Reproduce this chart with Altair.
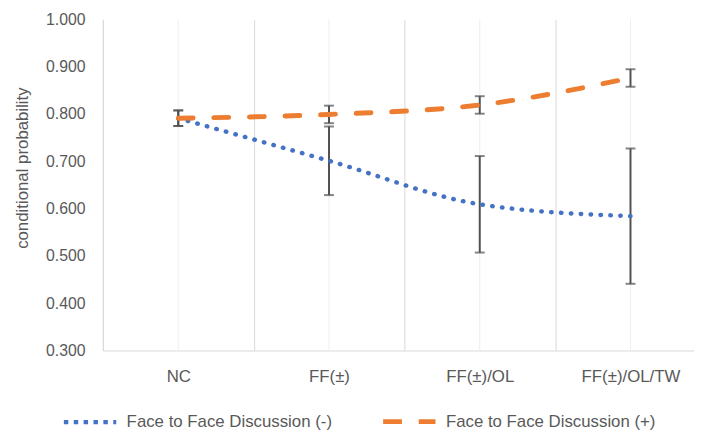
import altair as alt
import pandas as pd

categories = ["NC", "FF(±)", "FF(±)/OL", "FF(±)/OL/TW"]
series = ["Face to Face Discussion (-)", "Face to Face Discussion (+)"]
neg_mean = [0.791, 0.701, 0.609, 0.584]
neg_err = [0.0165, 0.0725, 0.102, 0.143]
pos_mean = [0.791, 0.799, 0.819, 0.876]
pos_err = [0.0165, 0.0185, 0.0185, 0.0185]
y_ticks = [0.3, 0.4, 0.5, 0.6, 0.7, 0.8, 0.9, 1.0]

colors = ["#4472C4", "#ED7D31"]
dashes = [[0.5, 9.5], [15, 21]]          # drawn with round caps
legend_dashes = [[4.5, 5.5], [19, 17]]   # legend symbols use butt caps
widths = [4.5, 5]

FONT = "Liberation Sans"
TEXT = "#595959"
GRID = "#d9d9d9"

rows = []
for s, means, errs in [(series[0], neg_mean, neg_err), (series[1], pos_mean, pos_err)]:
    for i, (c, m, e) in enumerate(zip(categories, means, errs)):
        rows.append({"category": c, "series": s, "mean": m, "lo": m - e, "hi": m + e, "idx": i})
df = pd.DataFrame(rows)
cat_df = pd.DataFrame({"category": categories})

H = 335
X_RANGE = 610
W_VIEW = 598

x_scale = alt.Scale(domain=categories, type="band", paddingInner=0, paddingOuter=0, range=[0, X_RANGE])
y_scale = alt.Scale(domain=[0.3, 1.0], nice=False, zero=False)

x_axis = alt.Axis(title=None, tickBand="extent", grid=True, gridColor=GRID, gridWidth=1,
                  ticks=False, tickSize=0, domainColor=GRID, domainWidth=1,
                  labelPadding=18, labelFontSize=17, labelColor=TEXT, labelAngle=0)
y_axis = alt.Axis(values=y_ticks, format=".3f", grid=False, ticks=False, tickSize=0,
                  domainColor=GRID, domainWidth=1, labelPadding=18, labelFontSize=16,
                  labelColor=TEXT, title="conditional probability", titleX=-81, titleY=150,
                  titleAngle=-90, titleFontSize=17, titleFontWeight="normal", titleColor=TEXT,
                  titleBaseline="middle", titleAlign="center")


def X():
    return alt.X("category:N", scale=x_scale, sort=categories, axis=x_axis)


def Y(field):
    return alt.Y(f"{field}:Q", scale=y_scale, axis=y_axis)


minor = alt.Chart(cat_df).mark_rule(color="#eeeeee", strokeWidth=1).encode(x=X())

err_rule = alt.Chart(df).mark_rule(color="#505050", strokeWidth=2).encode(
    x=X(), y=Y("lo"), y2="hi:Q")
cap_lo = alt.Chart(df).mark_tick(color="#505050", size=10, thickness=2).encode(x=X(), y=Y("lo"))
cap_hi = alt.Chart(df).mark_tick(color="#505050", size=10, thickness=2).encode(x=X(), y=Y("hi"))

lines = alt.Chart(df).mark_line(interpolate="monotone", strokeCap="round").encode(
    x=X(),
    y=Y("mean"),
    color=alt.Color("series:N", scale=alt.Scale(domain=series, range=colors), legend=None),
    strokeDash=alt.StrokeDash("series:N", scale=alt.Scale(domain=series, range=dashes), legend=None),
    strokeWidth=alt.StrokeWidth("series:N", scale=alt.Scale(domain=series, range=widths), legend=None),
    order="idx:Q",
)

legend = alt.Legend(title=None)
legend_layer = alt.Chart(df).transform_filter("false").mark_line(strokeCap="butt").encode(
    x=X(),
    y=Y("mean"),
    color=alt.Color("series:N", scale=alt.Scale(domain=series, range=colors), legend=legend),
    strokeDash=alt.StrokeDash("series:N", scale=alt.Scale(domain=series, range=legend_dashes), legend=legend),
    strokeWidth=alt.StrokeWidth("series:N", scale=alt.Scale(domain=series, range=widths), legend=legend),
)

chart = alt.layer(minor, err_rule, cap_lo, cap_hi, lines, legend_layer).resolve_scale(
    color="independent", strokeDash="independent", strokeWidth="independent"
).properties(
    width=W_VIEW,
    height=H,
    autosize=alt.AutoSizeParams(type="none"),
    padding={"left": 96, "top": 9, "right": 0, "bottom": 80},
).configure_view(stroke=None).configure_axis(
    labelFont=FONT, titleFont=FONT
).configure_legend(
    orient="none", legendX=-42, legendY=378, direction="horizontal",
    symbolType="stroke", symbolSize=2809, labelFont=FONT, labelFontSize=17,
    labelColor=TEXT, labelOffset=8, columnPadding=41, labelLimit=400, padding=0,
)

chart.save("out.html", embed_options={"renderer": "svg", "actions": False})
